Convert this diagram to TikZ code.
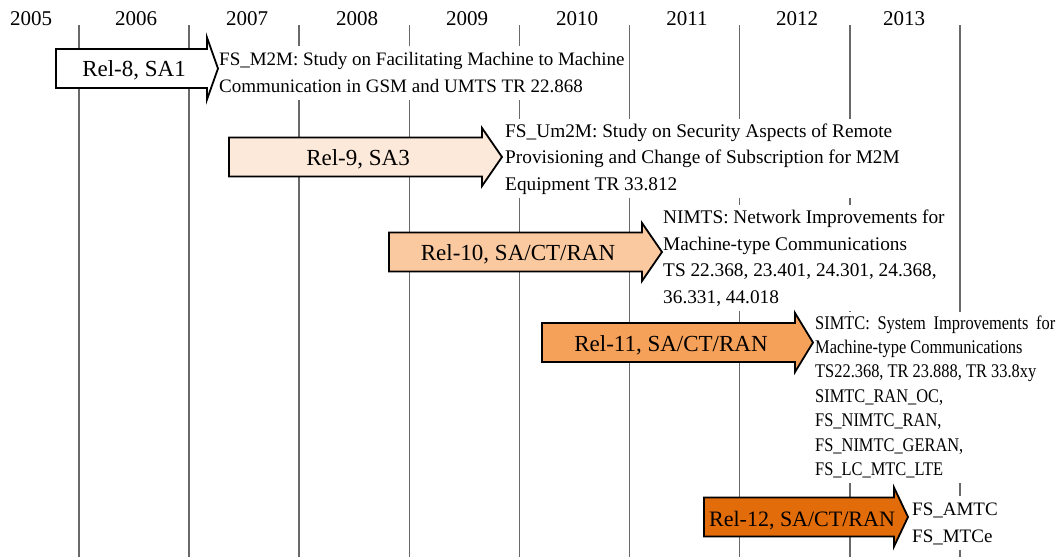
\documentclass[tikz,border=0pt]{standalone}
\usepackage{fontspec}
\setmainfont{Liberation Serif}
\newfontfamily\narrowserif[FakeStretch=0.85]{Liberation Serif}
\definecolor{gridgray}{RGB}{105,105,105}
\definecolor{relA}{RGB}{255,255,255}
\definecolor{relB}{RGB}{253,233,217}
\definecolor{relC}{RGB}{250,201,160}
\definecolor{relD}{RGB}{246,161,90}
\definecolor{relE}{RGB}{227,108,10}

% block arrow: #1 x of tail, #2 x of head base, #3 x of tip, #4 y of axis, #5 half height of head, #6 fill
\newcommand\blockarrow[6]{%
  \draw[relshape, fill=#6]
    (#1,{#4-19.5}) -- (#2,{#4-19.5}) -- (#2,{#4-#5}) -- (#3,#4)
    -- (#2,{#4+#5}) -- (#2,{#4+19.5}) -- (#1,{#4+19.5}) -- cycle;}

\begin{document}
\begin{tikzpicture}[x=1pt,y=-1pt,
  yearline/.style={draw=gridgray, line width=1.6pt},
  yearlabel/.style={font=\fontsize{21}{25}\selectfont, anchor=base, inner sep=0pt},
  relshape/.style={draw=black, line width=1.8pt, line join=miter},
  rellabel/.style={font=\fontsize{23}{27}\selectfont, anchor=base, inner sep=0pt},
  notebox/.style={fill=white, inner sep=0pt, anchor=north west, align=left},
]
\useasboundingbox (0,0) rectangle (1059,557);

% year grid
\foreach \i in {0,...,8}
  \draw[yearline] ({79+110.1*\i},25) -- ({79+110.1*\i},557);
\foreach \yr/\x in {2005/31,2006/136,2007/247,2008/357,2009/467,2010/577,2011/687,2012/797,2013/904}
  \node[yearlabel] (y\yr) at (\x,25) {\yr};

% releases
\blockarrow{56}{207}{218}{68.5}{31}{relA}
\node[rellabel] (rel8) at (134,76.5) {Rel-8, SA1};
\node[notebox, font=\fontsize{19}{27}\selectfont] (fsm2m) at (219,46.1)
  {\strut FS\_M2M: Study on Facilitating Machine to Machine\\
   Communication in GSM and UMTS TR 22.868\strut};

\blockarrow{229}{482}{502}{157}{29}{relB}
\node[rellabel] (rel9) at (358,165) {Rel-9, SA3};
\node[notebox, font=\fontsize{19.3}{26.5}\selectfont] (fsum2m) at (505,118.45)
  {\strut FS\_Um2M: Study on Security Aspects of Remote\\
   Provisioning and Change of Subscription for M2M\\
   Equipment TR 33.812\strut};

\blockarrow{389}{642}{662}{252}{29}{relC}
\node[rellabel] (rel10) at (518,260) {Rel-10, SA/CT/RAN};
\node[notebox, font=\fontsize{19.3}{26.5}\selectfont] (nimts) at (663,204.95)
  {\strut NIMTS: Network Improvements for\\
   Machine-type Communications\\
   TS 22.368, 23.401, 24.301, 24.368,\\
   36.331, 44.018\strut};

\blockarrow{542}{795}{813}{342.5}{29.5}{relD}
\node[rellabel] (rel11) at (671,351) {Rel-11, SA/CT/RAN};
\node[notebox, font=\narrowserif\fontsize{19.3}{24.4}\selectfont] (simtc) at (815,311.9)
  {\strut\makebox[240pt][s]{SIMTC: System Improvements for}\\
   Machine-type Communications\\
   TS22.368, TR 23.888, TR 33.8xy\\
   SIMTC\_RAN\_OC,\\
   FS\_NIMTC\_RAN,\\
   FS\_NIMTC\_GERAN,\\
   FS\_LC\_MTC\_LTE\strut};

\blockarrow{704}{894}{908}{517}{29.5}{relE}
\node[rellabel, font=\fontsize{22}{26}\selectfont] (rel12) at (802,526) {Rel-12, SA/CT/RAN};
\node[notebox, font=\fontsize{19}{27}\selectfont] (amtc) at (912,496.1)
  {\strut FS\_AMTC\\
   FS\_MTCe\strut};
\end{tikzpicture}
\end{document}
